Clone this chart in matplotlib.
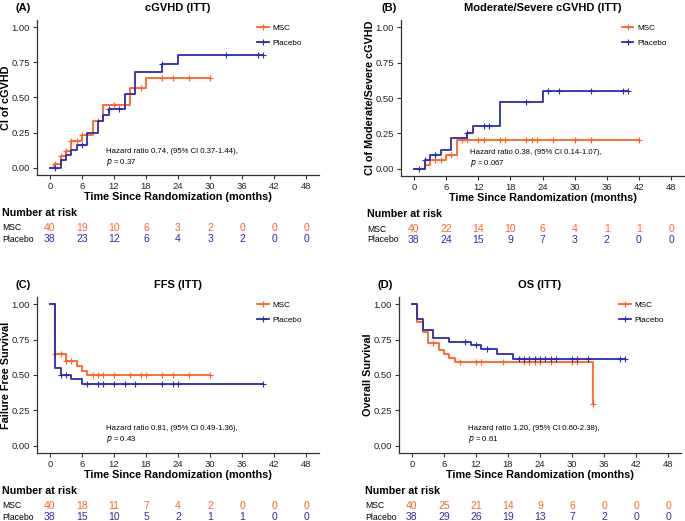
import numpy as np
import matplotlib
matplotlib.use('Agg')
import matplotlib.pyplot as plt
from matplotlib.lines import Line2D
from matplotlib.transforms import blended_transform_factory

plt.rcParams['font.family'] = ['Liberation Sans', 'DejaVu Sans']

W, H = 685, 521
ORANGE = '#FF6424'
BLUE = '#2C2CAE'
GREY = '#333333'

risk_times = [0, 6, 12, 18, 24, 30, 36, 42, 48]

# (A) cGVHD cumulative incidence
a_msc_t = [0, 0.75, 2, 3, 4, 6, 8, 10, 15, 18]
a_msc_v = [0, 0.028, 0.085, 0.12, 0.19, 0.234, 0.336, 0.447, 0.57, 0.64]
a_msc_end = 30
a_msc_cens = [1, 2, 3, 4, 5, 6, 9, 12, 17, 21, 23, 26, 30]
a_pla_t = [0, 2, 3, 4, 5, 7, 9, 10, 11, 14, 16, 21, 24]
a_pla_v = [0, 0.06, 0.095, 0.13, 0.165, 0.25, 0.335, 0.375, 0.42, 0.525, 0.68, 0.735, 0.80]
a_pla_end = 40
a_pla_cens = [1, 6, 11, 13, 21, 33, 39, 40]
a_risk_msc = [40, 19, 10, 6, 3, 2, 0, 0, 0]
a_risk_pla = [38, 23, 12, 6, 4, 3, 2, 0, 0]

# (B) moderate/severe cGVHD cumulative incidence
b_msc_t = [0, 2, 3, 6, 8]
b_msc_v = [0, 0.03, 0.06, 0.10, 0.205]
b_msc_end = 42
b_msc_cens = [4, 5, 7, 9, 10, 12, 13, 16, 17, 21, 22, 23, 26, 30, 33, 42]
b_pla_t = [0, 2, 3, 5, 7, 10, 11, 16, 24]
b_pla_v = [0, 0.06, 0.095, 0.13, 0.215, 0.255, 0.30, 0.475, 0.55]
b_pla_end = 40
b_pla_cens = [1, 2, 4, 10, 13, 14, 21, 25, 27, 33, 39, 40]
b_risk_msc = [40, 22, 14, 10, 6, 4, 1, 1, 0]
b_risk_pla = [38, 24, 15, 9, 7, 3, 2, 0, 0]

# (C) failure free survival
c_msc_t = [0, 1, 3, 5, 6, 7]
c_msc_v = [1.0, 0.65, 0.60, 0.565, 0.53, 0.50]
c_msc_end = 30
c_msc_cens = [1, 2, 3, 4, 8, 9, 10, 12, 15, 17, 18, 21, 23, 26, 30]
c_pla_t = [0, 1, 2, 4, 6]
c_pla_v = [1.0, 0.55, 0.50, 0.47, 0.44]
c_pla_end = 40
c_pla_cens = [2, 3, 7, 9, 10, 12, 14, 16, 21, 23, 24, 40]
c_risk_msc = [40, 18, 11, 7, 4, 2, 0, 0, 0]
c_risk_pla = [38, 15, 10, 5, 2, 1, 1, 0, 0]

# (D) overall survival
d_msc_t = [0, 1, 2, 3, 5, 6, 7, 8, 34]
d_msc_v = [1.0, 0.875, 0.80, 0.725, 0.675, 0.65, 0.62, 0.59, 0.295]
d_msc_end = 34
d_msc_cens = [4, 9, 12, 13, 17, 21, 22, 23, 24, 26, 30, 31, 34]
d_pla_t = [0, 1, 2, 4, 7, 11, 13, 16, 19]
d_pla_v = [1.0, 0.895, 0.815, 0.76, 0.735, 0.71, 0.68, 0.645, 0.61]
d_pla_end = 40
d_pla_cens = [10, 12, 14, 20, 21, 22, 23, 24, 25, 26, 27, 30, 31, 33, 39, 40]
d_risk_msc = [40, 25, 21, 14, 9, 6, 0, 0, 0]
d_risk_pla = [38, 29, 26, 19, 13, 7, 2, 0, 0]

panels = [
    dict(tag='(A)', title='cGVHD (ITT)', ylabel='CI of cGVHD',
         box=(37, 319, 20, 175), tagx=15, labx=2, ylabx=11,
         msc=(a_msc_t, a_msc_v, a_msc_end, a_msc_cens),
         pla=(a_pla_t, a_pla_v, a_pla_end, a_pla_cens),
         risk=(a_risk_msc, a_risk_pla),
         hr='Hazard ratio 0.74, (95% CI 0.37-1.44),\n$p$ = 0.37', hry=0.14),
    dict(tag='(B)', title='Moderate/Severe cGVHD (ITT)', ylabel='CI of Moderate/Severe cGVHD',
         box=(401, 684, 20, 176), tagx=381, labx=367, ylabx=375,
         msc=(b_msc_t, b_msc_v, b_msc_end, b_msc_cens),
         pla=(b_pla_t, b_pla_v, b_pla_end, b_pla_cens),
         risk=(b_risk_msc, b_risk_pla),
         hr='Hazard ratio 0.38, (95% CI 0.14-1.07),\n$p$ = 0.067', hry=0.14),
    dict(tag='(C)', title='FFS (ITT)', ylabel='Failure Free Survival',
         box=(37, 319, 297, 453), tagx=15, labx=2, ylabx=11,
         msc=(c_msc_t, c_msc_v, c_msc_end, c_msc_cens),
         pla=(c_pla_t, c_pla_v, c_pla_end, c_pla_cens),
         risk=(c_risk_msc, c_risk_pla),
         hr='Hazard ratio 0.81, (95% CI 0.49-1.36),\n$p$ = 0.43', hry=0.15),
    dict(tag='(D)', title='OS (ITT)', ylabel='Overall Survival',
         box=(399, 681, 297, 453), tagx=377, labx=365, ylabx=373,
         msc=(d_msc_t, d_msc_v, d_msc_end, d_msc_cens),
         pla=(d_pla_t, d_pla_v, d_pla_end, d_pla_cens),
         risk=(d_risk_msc, d_risk_pla),
         hr='Hazard ratio 1.20, (95% CI 0.60-2.38),\n$p$ = 0.61', hry=0.15),
]

fig = plt.figure(figsize=(W / 100, H / 100), dpi=100)


def draw_curve(ax, data, color, z):
    t, v, end, cens = data
    xs = list(t) + [end]
    ys = list(v) + [v[-1]]
    ax.step(xs, ys, where='post', color=color, lw=1.3, zorder=z)
    cy = [v[np.searchsorted(t, c, side='right') - 1] for c in cens]
    ax.plot(cens, cy, ls='none', marker='+', ms=5, mew=0.8, color=color, zorder=z + 0.5)


handles = [Line2D([], [], color=ORANGE, lw=1.3, marker='+', ms=5, mew=0.8),
           Line2D([], [], color=BLUE, lw=1.3, marker='+', ms=5, mew=0.8)]

for p in panels:
    x0, x1, top, bot = p['box']
    w = x1 - x0
    ax = fig.add_axes([x0 / W, 1 - bot / H, w / W, (bot - top) / H])
    draw_curve(ax, p['msc'], ORANGE, 3)
    draw_curve(ax, p['pla'], BLUE, 4)
    ax.set_xlim(-2.4, 50.4)
    ax.set_ylim(-0.05, 1.05)
    ax.set_xticks(risk_times)
    ax.set_yticks([0, 0.25, 0.5, 0.75, 1.0])
    ax.set_yticklabels(['0.00', '0.25', '0.50', '0.75', '1.00'])
    for s in ('top', 'right'):
        ax.spines[s].set_visible(False)
    for s in ('left', 'bottom'):
        ax.spines[s].set_color(GREY)
        ax.spines[s].set_linewidth(0.9)
    ax.tick_params(labelsize=6.8, length=3, width=0.8, color=GREY, labelcolor='#222222', pad=2)
    ax.set_xlabel('Time Since Randomization (months)', fontsize=7.8, fontweight='bold', labelpad=1)
    ax.set_ylabel(p['ylabel'], fontsize=7.8, fontweight='bold')
    ax.yaxis.set_label_coords((p['ylabx'] - x0) / w, 0.5)
    ax.text(10.5, p['hry'], p['hr'], fontsize=5.6, ha='left', va='top', linespacing=1.3)
    ax.legend(handles, ['MSC', 'Placebo'], loc='upper left', bbox_to_anchor=(0.76, 1.01),
              frameon=False, fontsize=5.9, handlelength=1.4, handletextpad=0.5,
              labelspacing=0.85, borderpad=0.2)

    # panel letter and title
    fig.text(p['tagx'] / W, 1 - (top - 12) / H, p['tag'], fontsize=8, fontweight='bold',
             ha='left', va='center')
    fig.text((x0 + x1) / 2 / W, 1 - (top - 12) / H, p['title'], fontsize=8,
             fontweight='bold', ha='center', va='center')

    # number at risk table
    tr = blended_transform_factory(ax.transData, fig.transFigure)
    fig.text(p['labx'] / W, 1 - (bot + 38) / H, 'Number at risk', fontsize=7.7,
             fontweight='bold', ha='left', va='center')
    fig.text(p['labx'] / W, 1 - (bot + 53) / H, 'MSC', fontsize=6.2, ha='left', va='center')
    fig.text(p['labx'] / W, 1 - (bot + 64) / H, 'Placebo', fontsize=6.2, ha='left', va='center')
    rmsc, rpla = p['risk']
    for tt, n1, n2 in zip(risk_times, rmsc, rpla):
        ax.text(tt, 1 - (bot + 53) / H, str(n1), transform=tr, fontsize=7.5, color=ORANGE,
                ha='center', va='center', clip_on=False)
        ax.text(tt, 1 - (bot + 64) / H, str(n2), transform=tr, fontsize=7.5, color=BLUE,
                ha='center', va='center', clip_on=False)

fig.savefig('out.png', dpi=100)
